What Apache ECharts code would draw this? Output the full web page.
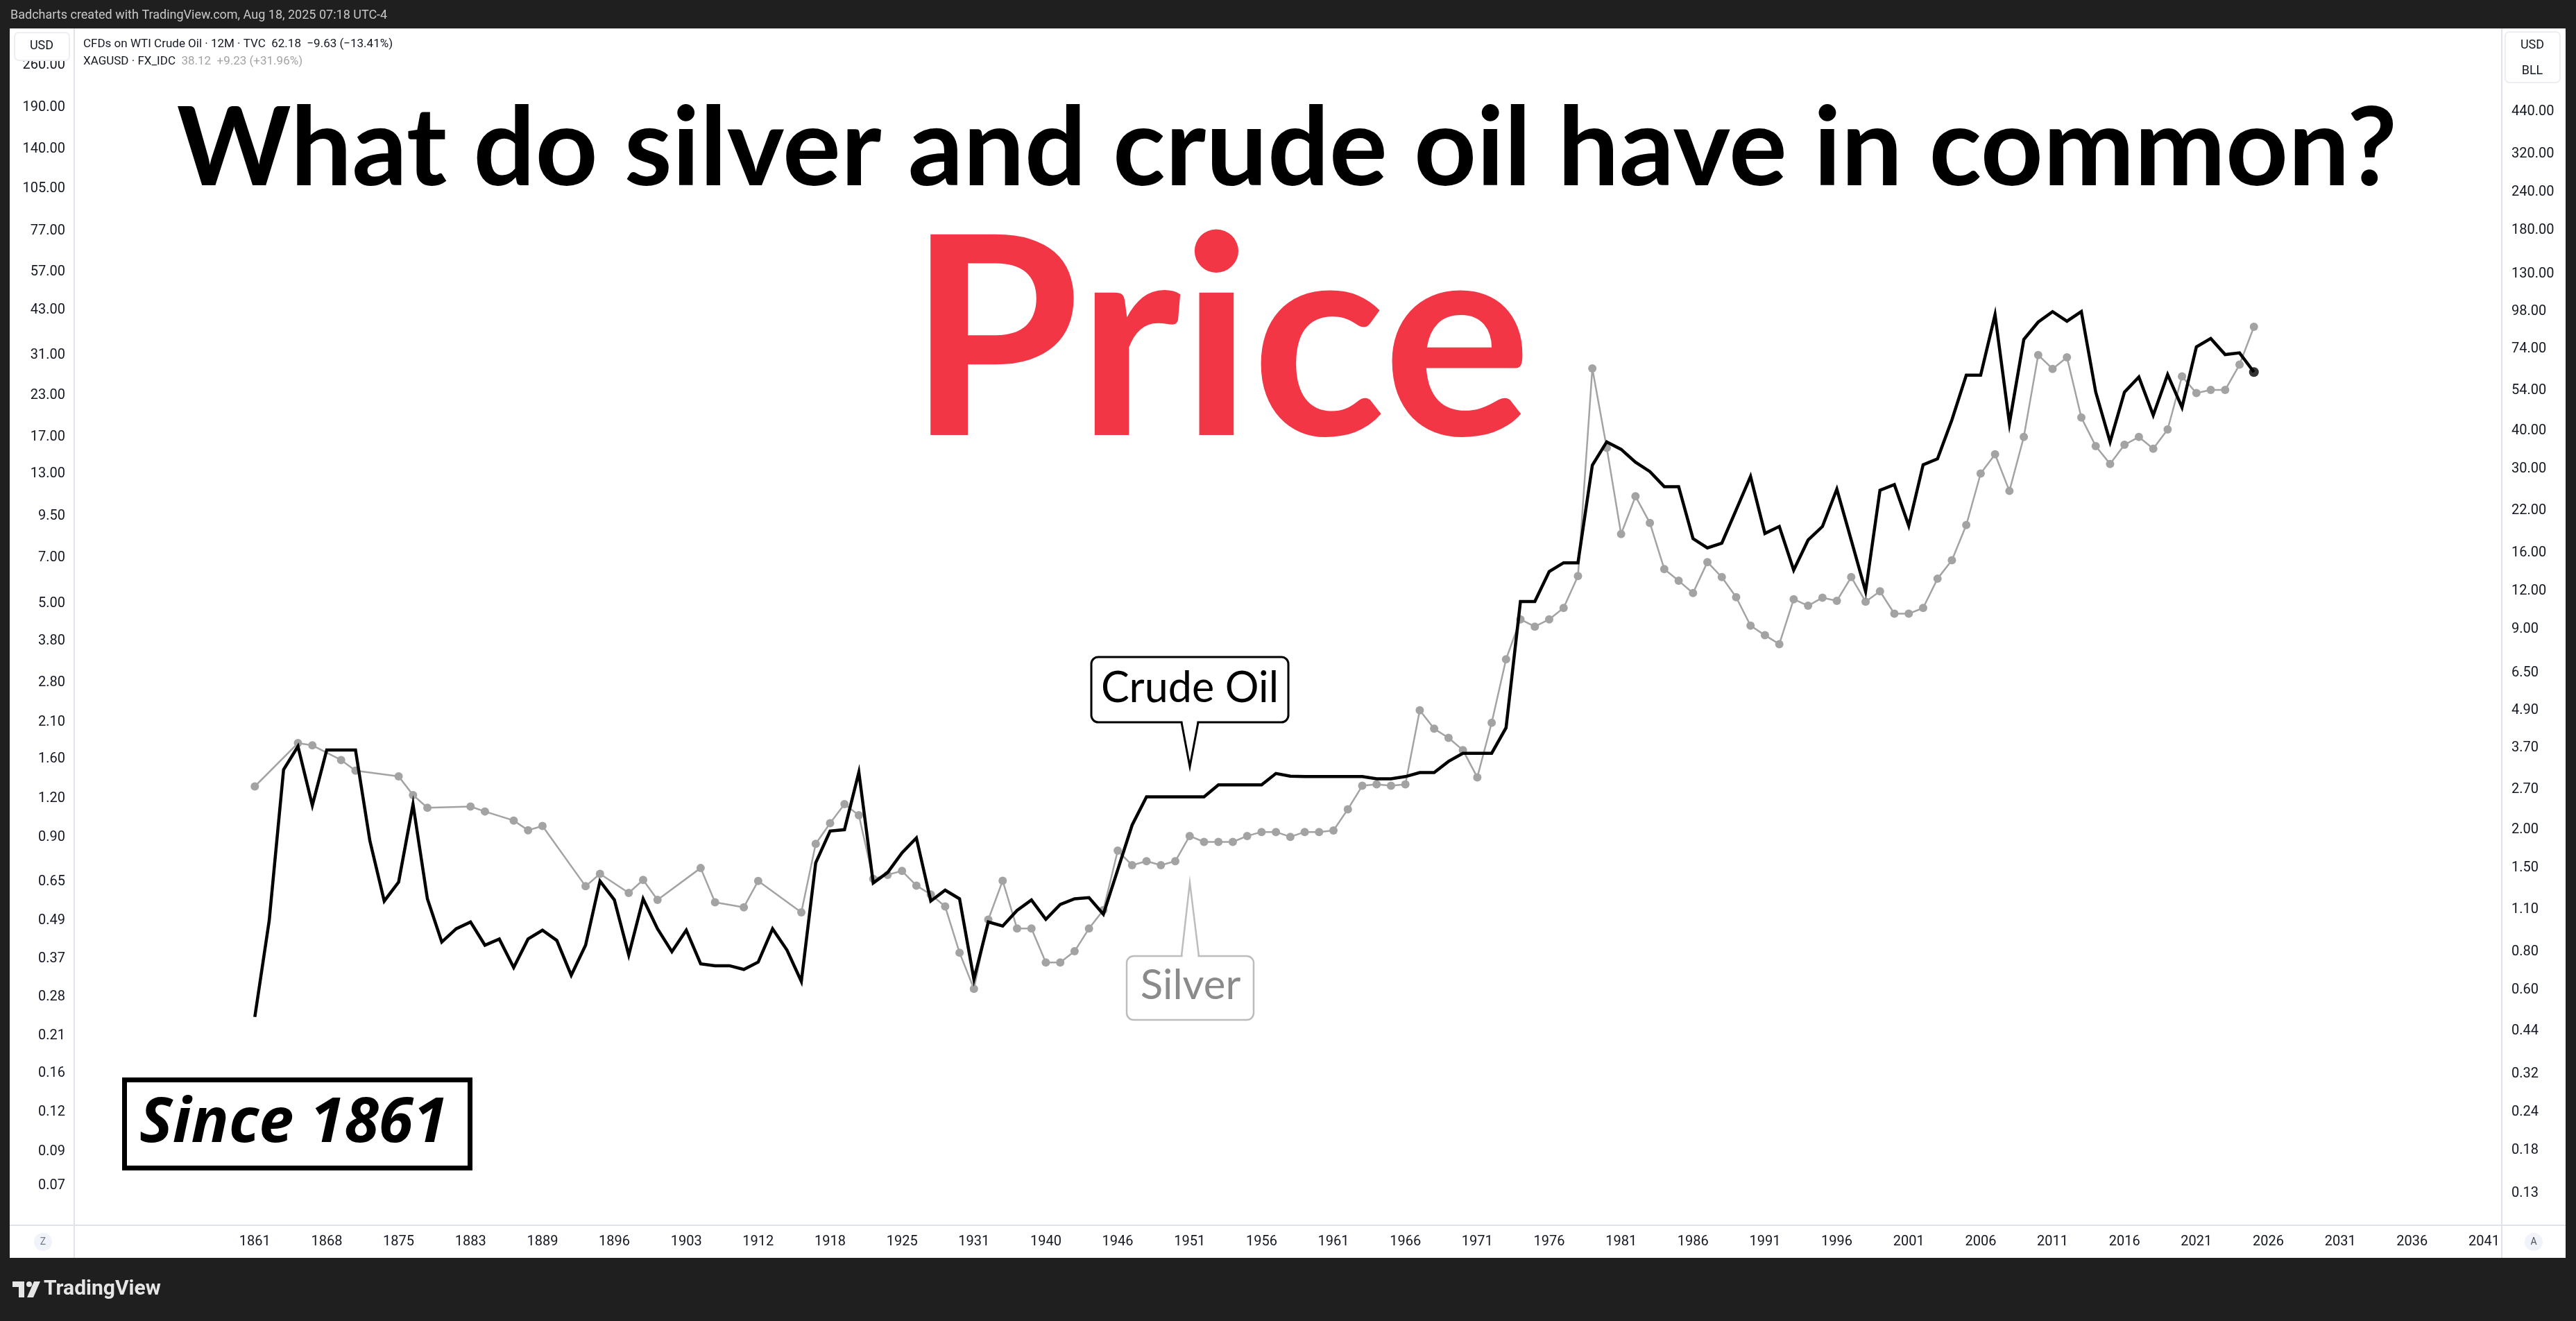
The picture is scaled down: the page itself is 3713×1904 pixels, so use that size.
<!DOCTYPE html>
<html><head><meta charset="utf-8">
<script src="https://cdn.jsdelivr.net/npm/echarts@6/dist/echarts.min.js"></script>
<style>html,body{margin:0;padding:0;background:#1f1f1f;overflow:hidden}#c{width:3713px;height:1904px}</style>
</head><body><div id="c"></div>
<script>
// one entry per yearly bar (TradingView 12M bars; early years have gaps)
const years = [1861,1862,1863,1866,1867,1868,1869,1872,1873,1874,1875,1877,1878,1879,1880,1883,1884,1885,1886,1888,
  1889,1890,1891,1894,1895,1896,1897,1900,1901,1902,1903,1906,1907,1908,1909,1912,1913,1914,1915,1917,
  1918,1919,1920,1923,1924,1925,1926,1928,1929,1930,1931,1934,1935,1936,1937,1940,1941,1942,1943,1945,
  1946,1947,1948,1949,1950,1951,1952,1953,1954,1955,1956,1957,1958,1959,1960,1961,1962,1963,1964,1965,
  1966,1967,1968,1969,1970,1971,1972,1973,1974,1975,1976,1977,1978,1979,1980,1981,1982,1983,1984,1985,
  1986,1987,1988,1989,1990,1991,1992,1993,1994,1995,1996,1997,1998,1999,2000,2001,2002,2003,2004,2005,
  2006,2007,2008,2009,2010,2011,2012,2013,2014,2015,2016,2017,2018,2019,2020,2021,2022,2023,2024,2025];

// WTI crude oil, yearly close (USD / barrel) - right axis
const oilPrice = [0.49,1.01,3.14,3.74,2.40,3.64,3.64,3.64,1.84,1.17,
  1.35,2.42,1.19,0.86,0.95,1.00,0.84,0.88,0.71,0.88,
  0.94,0.87,0.67,0.84,1.36,1.18,0.78,1.19,0.95,0.80,
  0.94,0.73,0.72,0.72,0.70,0.74,0.95,0.81,0.64,1.56,
  1.98,2.00,3.08,1.34,1.45,1.68,1.88,1.17,1.27,1.19,
  0.65,1.00,0.97,1.09,1.18,1.02,1.14,1.19,1.20,1.06,
  1.48,2.07,2.56,2.56,2.56,2.56,2.56,2.80,2.80,2.80,
  2.80,3.05,2.99,2.98,2.98,2.98,2.98,2.98,2.93,2.93,
  2.98,3.07,3.07,3.34,3.55,3.55,3.55,4.30,11.1,11.1,
  13.9,14.84,14.84,30.9,36.8,34.8,31.6,29.45,26.3,26.3,
  17.8,16.6,17.2,22.1,28.4,18.5,19.5,14.05,17.6,19.5,
  25.8,17.6,11.97,25.6,26.7,19.6,31.0,32.4,43.4,60.7,
  60.7,95.6,42.3,79.4,90.5,97.9,91.1,97.9,53.5,36.8,
  53.5,59.9,44.95,61.0,47.7,75.1,80.0,70.9,71.81,62.18];

// Silver XAGUSD, yearly close (USD / oz) - left axis; null = no bar for silver
const silverPrice = [1.31,null,null,1.80,1.77,null,1.59,1.47,null,null,
  1.41,1.23,1.12,null,null,1.13,1.09,null,1.02,0.95,
  0.98,null,null,0.63,0.69,null,0.60,0.66,0.57,null,
  null,0.72,0.56,null,0.54,0.655,null,null,0.52,0.86,
  1.00,1.15,1.06,0.665,0.685,0.705,0.633,0.593,0.543,0.387,
  0.297,0.493,0.656,0.462,0.462,0.36,0.36,0.391,0.462,0.529,
  0.818,0.735,0.757,0.735,0.757,0.911,0.872,0.872,0.872,0.911,
  0.938,0.938,0.905,0.938,0.938,0.948,1.108,1.316,1.33,1.316,
  1.33,2.29,2.00,1.87,1.71,1.40,2.09,3.33,4.46,4.23,
  4.46,4.85,6.13,28.1,15.7,8.34,11.0,9.05,6.45,5.92,
  5.41,6.79,6.08,5.25,4.26,3.97,3.72,5.17,4.93,5.23,
  5.11,6.08,5.08,5.48,4.65,4.65,4.85,6.01,6.88,8.91,
  13.0,14.97,11.44,17.0,31.0,28.0,30.5,19.6,15.9,13.95,
  16.05,17.0,15.6,17.96,26.5,23.45,24.0,24.0,28.89,38.12];

// time-axis tick labels (every 5th bar, incl. future bars)
const tickBars = [0,5,10,15,20,25,30,35,40,45,50,55,60,65,70,75,80,85,90,95,100,105,110,115,120,125,130,135,140,145,150,155];
const tickLabels = ['1861','1868','1875','1883','1889','1896','1903','1912','1918','1925','1931','1940','1946','1951','1956','1961',
  '1966','1971','1976','1981','1986','1991','1996','2001','2006','2011','2016','2021','2026','2031','2036','2041'];
const silverTicks = [260,190,140,105,77,57,43,31,23,17,13,9.5,7,5,3.8,2.8,2.1,1.6,1.2,0.9,0.65,0.49,0.37,0.28,0.21,0.16,0.12,0.09,0.07];
const oilTicks = [440,320,240,180,130,98,74,54,40,30,22,16,12,9,6.5,4.9,3.7,2.7,2.0,1.5,1.1,0.8,0.6,0.44,0.32,0.24,0.18,0.13];

const oilData = years.map((y, i) => [i, oilPrice[i]]);
const silverData = [];
years.forEach((y, i) => { if (silverPrice[i] != null) silverData.push([i, silverPrice[i]]); });
const lastIdx = years.length - 1;

const AX = '#131722', SEP = '#e0e3eb', SILVER = '#a3a3a3';
const axisFont = 'Roboto';

const chart = echarts.init(document.getElementById('c'), null, {renderer: 'canvas'});
chart.setOption({
  backgroundColor: '#1f1f1f',
  animation: false,
  grid: {left: 108, right: 108, top: 41, bottom: 138, containLabel: false},
  xAxis: {
    type: 'value', min: -12.508, max: 156.185,
    axisLine: {show: false}, axisTick: {show: false}, splitLine: {show: false},
    axisLabel: {customValues: tickBars, margin: 14, fontSize: 20, fontFamily: axisFont, color: AX,
      formatter: v => { const k = tickBars.indexOf(Math.round(v)); return k >= 0 ? tickLabels[k] : ''; }}
  },
  yAxis: [
    {type: 'log', logBase: 10, min: 0.05242, max: 340.1, position: 'left',
     axisLine: {show: false}, axisTick: {show: false}, splitLine: {show: false},
     axisLabel: {customValues: silverTicks, margin: 14, fontSize: 20, fontFamily: axisFont, color: AX,
       formatter: v => Number(v).toFixed(2)}},
    {type: 'log', logBase: 10, min: 0.1025, max: 821.1, position: 'right',
     axisLine: {show: false}, axisTick: {show: false}, splitLine: {show: false},
     axisLabel: {customValues: oilTicks, margin: 15, fontSize: 20, fontFamily: axisFont, color: AX,
       formatter: v => Number(v).toFixed(2)}}
  ],
  series: [
    {name: 'XAGUSD', type: 'line', yAxisIndex: 0, data: silverData, z: 3,
     symbol: 'circle', symbolSize: 12, showSymbol: true,
     itemStyle: {color: SILVER}, lineStyle: {color: SILVER, width: 2.5}},
    {name: 'WTI Crude Oil', type: 'line', yAxisIndex: 1, data: oilData, z: 4,
     showSymbol: false, lineStyle: {color: '#000000', width: 4.5, join: 'miter'}},
    {name: 'last', type: 'scatter', yAxisIndex: 1, data: [[lastIdx, oilPrice[lastIdx]]], z: 5,
     symbolSize: 14, itemStyle: {color: '#000000'}}
  ],
  graphic: [
    {type: 'rect', z: -100, silent: true, shape: {x: 14, y: 41, width: 3684, height: 1772}, style: {fill: '#ffffff'}},
    {type: 'line', z: 1, shape: {x1: 107, y1: 41, x2: 107, y2: 1813}, style: {stroke: SEP, lineWidth: 2}},
    {type: 'line', z: 1, shape: {x1: 3606, y1: 41, x2: 3606, y2: 1813}, style: {stroke: SEP, lineWidth: 2}},
    {type: 'line', z: 1, shape: {x1: 14, y1: 1766, x2: 3698, y2: 1766}, style: {stroke: SEP, lineWidth: 2}},
    // header
    {type: 'text', x: 15, y: 22, style: {text: 'Badcharts created with TradingView.com, Aug 18, 2025 07:18 UTC-4',
      font: '18px Roboto', fill: '#c8c8c8', verticalAlign: 'middle'}},
    // legend
    {type: 'text', x: 120, y: 64, style: {text: '{a|CFDs on WTI Crude Oil · 12M · TVC}{b|  62.18  −9.63 (−13.41%)}',
      verticalAlign: 'middle', rich: {a: {fontSize: 17, fontFamily: 'Roboto', fill: AX}, b: {fontSize: 17, fontFamily: 'Roboto', fill: AX}}}},
    {type: 'text', x: 120, y: 89, style: {text: '{a|XAGUSD · FX_IDC}{b|  38.12  +9.23 (+31.96%)}',
      verticalAlign: 'middle', rich: {a: {fontSize: 17, fontFamily: 'Roboto', fill: AX}, b: {fontSize: 17, fontFamily: 'Roboto', fill: SILVER}}}},
    // currency boxes
    {type: 'rect', z: 10, shape: {x: 21, y: 47, width: 79, height: 40, r: 6}, style: {fill: '#ffffff', stroke: '#eceef2', lineWidth: 2}},
    {type: 'text', z: 11, x: 60, y: 66, style: {text: 'USD', font: '18px Roboto', fill: AX, align: 'center', verticalAlign: 'middle'}},
    {type: 'rect', z: 10, shape: {x: 3611, y: 46, width: 79, height: 73, r: 6}, style: {fill: '#ffffff', stroke: '#eceef2', lineWidth: 2}},
    {type: 'text', z: 11, x: 3650, y: 65, style: {text: 'USD', font: '18px Roboto', fill: AX, align: 'center', verticalAlign: 'middle'}},
    {type: 'text', z: 11, x: 3650, y: 102, style: {text: 'BLL', font: '18px Roboto', fill: AX, align: 'center', verticalAlign: 'middle'}},
    // headline texts
    {type: 'text', z: 20, x: 1855, y: 216, style: {text: 'What do silver and crude oil have in common?',
      font: 'bold 157px Lato', fill: '#000000', align: 'center', verticalAlign: 'middle'}},
    {type: 'text', z: 20, x: 1758, y: 498, style: {text: 'Price',
      font: 'bold 400px Lato', fill: '#f23645', align: 'center', verticalAlign: 'middle'}},
    // Crude Oil callout
    {type: 'rect', z: 20, shape: {x: 1573, y: 947, width: 284, height: 94, r: 10}, style: {fill: '#ffffff', stroke: '#000000', lineWidth: 3}},
    {type: 'rect', z: 21, shape: {x: 1704.5, y: 1038, width: 21, height: 6}, style: {fill: '#ffffff'}},
    {type: 'polyline', z: 21, shape: {points: [[1703, 1041], [1715, 1105], [1727, 1041]]}, style: {stroke: '#000000', lineWidth: 3, fill: null}},
    {type: 'text', z: 22, x: 1715, y: 992, style: {text: 'Crude Oil', font: '61px Lato', fill: '#000000', align: 'center', verticalAlign: 'middle'}},
    // Silver callout
    {type: 'rect', z: 20, shape: {x: 1624, y: 1378, width: 183, height: 92, r: 10}, style: {fill: '#ffffff', stroke: '#bdbdbd', lineWidth: 2.5}},
    {type: 'rect', z: 21, shape: {x: 1704.5, y: 1375, width: 22, height: 6}, style: {fill: '#ffffff'}},
    {type: 'polyline', z: 21, shape: {points: [[1703, 1378], [1715, 1272], [1728, 1378]]}, style: {stroke: '#bdbdbd', lineWidth: 2.5, fill: null}},
    {type: 'text', z: 22, x: 1716, y: 1421, style: {text: 'Silver', font: '60px Lato', fill: '#8a8a8a', align: 'center', verticalAlign: 'middle'}},
    // Since 1861 box
    {type: 'rect', z: 20, shape: {x: 179.5, y: 1556.5, width: 498, height: 127}, style: {fill: '#ffffff', stroke: '#000000', lineWidth: 7}},
    {type: 'text', z: 21, x: 423, y: 1620, style: {text: 'Since 1861', font: 'italic bold 90px "Open Sans"', fill: '#000000', align: 'center', verticalAlign: 'middle'}},
    // bottom buttons
    {type: 'circle', z: 10, shape: {cx: 62, cy: 1790, r: 13}, style: {fill: '#f0f3fa'}},
    {type: 'text', z: 11, x: 62, y: 1790, style: {text: 'Z', font: '14px Roboto', fill: '#787b86', align: 'center', verticalAlign: 'middle'}},
    {type: 'circle', z: 10, shape: {cx: 3652, cy: 1790, r: 13}, style: {fill: '#f0f3fa'}},
    {type: 'text', z: 11, x: 3652, y: 1790, style: {text: 'A', font: '14px Roboto', fill: '#50535e', align: 'center', verticalAlign: 'middle'}},
    // footer logo
    {type: 'rect', z: 10, shape: {x: 18, y: 1847, width: 17, height: 8}, style: {fill: '#e6e6e6'}},
    {type: 'rect', z: 10, shape: {x: 27, y: 1847, width: 8, height: 23}, style: {fill: '#e6e6e6'}},
    {type: 'circle', z: 10, shape: {cx: 42, cy: 1851, r: 4}, style: {fill: '#e6e6e6'}},
    {type: 'polygon', z: 10, shape: {points: [[49, 1847], [58, 1847], [48, 1870], [39, 1870]]}, style: {fill: '#e6e6e6'}},
    {type: 'text', z: 10, x: 63, y: 1858, style: {text: 'TradingView', font: 'bold 30px Roboto', fill: '#e6e6e6', verticalAlign: 'middle'}}
  ]
});
</script></body></html>
